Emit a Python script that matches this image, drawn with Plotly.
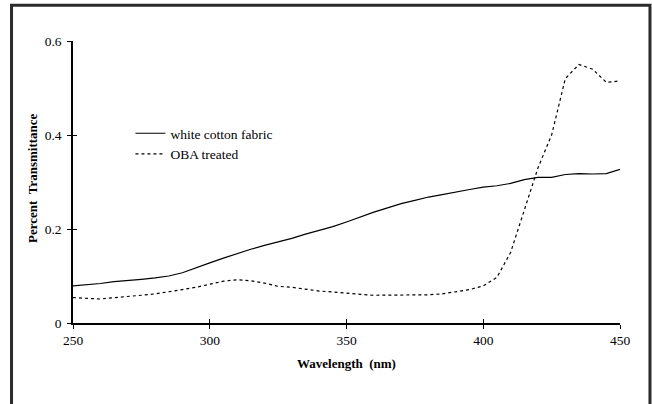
import plotly.graph_objects as go

wavelength = [250, 255, 260, 265, 270, 275, 280, 285, 290, 295, 300, 305, 310, 315, 320, 325,
              330, 335, 340, 345, 350, 355, 360, 365, 370, 375, 380, 385, 390, 395, 400, 405,
              410, 415, 420, 425, 430, 435, 440, 445, 450]
white_cotton = [0.079, 0.081, 0.084, 0.088, 0.090, 0.093, 0.096, 0.100, 0.107, 0.118, 0.128, 0.138,
                0.148, 0.157, 0.165, 0.172, 0.180, 0.189, 0.197, 0.205, 0.215, 0.226, 0.236, 0.245,
                0.254, 0.261, 0.268, 0.273, 0.279, 0.284, 0.289, 0.292, 0.297, 0.305, 0.310, 0.310,
                0.316, 0.318, 0.317, 0.318, 0.327]
oba_treated = [0.054, 0.053, 0.051, 0.054, 0.056, 0.059, 0.062, 0.066, 0.071, 0.076, 0.082, 0.089,
               0.092, 0.090, 0.085, 0.078, 0.076, 0.072, 0.068, 0.066, 0.063, 0.061, 0.059, 0.059,
               0.060, 0.060, 0.060, 0.062, 0.066, 0.071, 0.079, 0.097, 0.150, 0.240, 0.330, 0.400,
               0.520, 0.550, 0.540, 0.512, 0.515]

x_ticks = [250, 300, 350, 400, 450]
y_ticks = [0, 0.2, 0.4, 0.6]
y_ticklabels = ["0", "0.2", "0.4", "0.6"]
x_title = "Wavelength  (nm)"
y_title = "Percent  Transmittance"

serif = "Liberation Serif, Times New Roman, serif"

fig = go.Figure()
fig.add_trace(go.Scatter(x=wavelength, y=white_cotton, mode="lines", name="white cotton fabric",
                         line=dict(color="black", width=1.2)))
fig.add_trace(go.Scatter(x=wavelength, y=oba_treated, mode="lines", name="OBA treated",
                         line=dict(color="black", width=1.2, dash="dot")))
# helper trace for the inner half of the crossing tick marks
fig.add_trace(go.Scatter(x=[wavelength[0]], y=[oba_treated[0]], xaxis="x2", yaxis="y2",
                         mode="markers", marker=dict(opacity=0), showlegend=False, hoverinfo="skip"))

axis_font = dict(family=serif, size=13.5, color="black")
fig.update_layout(
    width=652, height=404,
    margin=dict(l=73, r=32, t=41, b=81, autoexpand=False),
    paper_bgcolor="white", plot_bgcolor="white",
    font=dict(family=serif, size=13, color="black"),
    showlegend=True,
    legend=dict(x=0.105, y=0.727, xanchor="left", yanchor="top", bgcolor="rgba(0,0,0,0)",
                font=dict(family=serif, size=13.5, color="black"), tracegroupgap=0,
                itemwidth=30),
    xaxis=dict(range=[250, 450], tickvals=x_ticks, ticks="outside", ticklen=4, tickwidth=1.2,
               tickcolor="black", showline=True, linecolor="black", linewidth=1.5,
               showgrid=False, zeroline=False, tickfont=axis_font, automargin=False),
    yaxis=dict(range=[0, 0.6], tickvals=y_ticks, ticktext=y_ticklabels, ticks="outside", ticklen=4,
               tickwidth=1.2, tickcolor="black", showline=True, linecolor="black", linewidth=1.5,
               showgrid=False, zeroline=False, tickfont=axis_font, automargin=False,
               ticklabelstandoff=3),
    xaxis2=dict(range=[250, 450], tickvals=x_ticks, ticks="inside", ticklen=4, tickwidth=1.2,
                tickcolor="black", overlaying="x", anchor="y2", side="bottom",
                showticklabels=False, showgrid=False, zeroline=False, showline=False),
    yaxis2=dict(range=[0, 0.6], tickvals=y_ticks, ticks="inside", ticklen=4, tickwidth=1.2,
                tickcolor="black", overlaying="y", anchor="x2", side="left",
                showticklabels=False, showgrid=False, zeroline=False, showline=False),
)

fig.add_annotation(text="<b>" + x_title + "</b>", xref="paper", yref="paper",
                   x=0.5, y=-0.142, xanchor="center", yanchor="middle", showarrow=False,
                   font=dict(family=serif, size=13, color="black"))
fig.add_annotation(text="<b>" + y_title + "</b>", xref="paper", yref="paper",
                   x=-0.0731, y=0.511, xanchor="center", yanchor="middle", showarrow=False,
                   textangle=-90, font=dict(family=serif, size=13, color="black"))

# outer frame (top, left, right sides)
fig.add_shape(type="path", xref="paper", yref="paper",
              path="M -0.1124,-0.4 L -0.1124,1.127 L 1.0548,1.127 L 1.0548,-0.4",
              line=dict(color="#2b2b2b", width=3))

fig.write_html("out.html", post_script="document.body.style.margin='0px';",
               config={"displayModeBar": False})
